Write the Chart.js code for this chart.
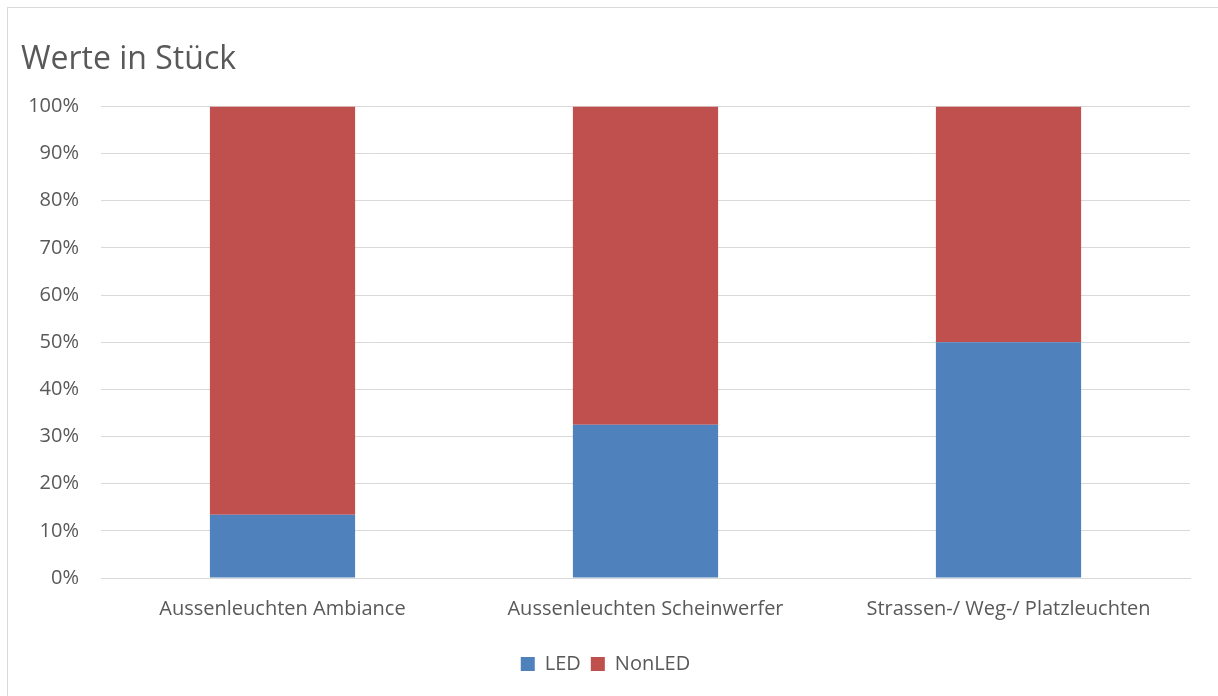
<!DOCTYPE html>
<html>
<head>
<meta charset="utf-8">
<script src="https://cdn.jsdelivr.net/npm/chart.js@4/dist/chart.umd.min.js"></script>
<style>
  html, body { margin: 0; padding: 0; background: #ffffff; }
  #wrap { width: 1218px; height: 696px; position: relative; }
</style>
</head>
<body>
<div id="wrap"><canvas id="c" width="1218" height="696"></canvas></div>
<script>
// Anteile je Leuchtenkategorie (in %)
const categories = ['Aussenleuchten Ambiance', 'Aussenleuchten Scheinwerfer', 'Strassen-/ Weg-/ Platzleuchten'];
const ledShare = [13.4, 32.5, 50.0];
const nonLedShare = [86.6, 67.5, 50.0];
const seriesNames = ['LED', 'NonLED'];
const yTicks = [0, 10, 20, 30, 40, 50, 60, 70, 80, 90, 100];

const textColor = '#595959';
const fontFamily = '"Open Sans", Lato, sans-serif';

// Heller Rahmen um die gesamte Grafik
const frame = {
  id: 'frame',
  beforeDraw(chart) {
    const ctx = chart.ctx;
    ctx.save();
    ctx.fillStyle = '#ffffff';
    ctx.fillRect(0, 0, chart.width, chart.height);
    ctx.strokeStyle = '#d9d9d9';
    ctx.lineWidth = 1;
    ctx.strokeRect(7.5, 7.5, chart.width + 20, chart.height + 20);
    ctx.restore();
  }
};

new Chart(document.getElementById('c'), {
  type: 'bar',
  data: {
    labels: categories,
    datasets: [
      { label: seriesNames[0], data: ledShare, backgroundColor: '#4f81bd' },
      { label: seriesNames[1], data: nonLedShare, backgroundColor: '#c0504d' }
    ]
  },
  options: {
    responsive: false,
    animation: false,
    devicePixelRatio: 1,
    layout: { padding: { left: 21, right: 28, top: 0, bottom: 12 } },
    datasets: { bar: { categoryPercentage: 1, barPercentage: 0.4 } },
    plugins: {
      title: {
        display: true,
        text: 'Werte in Stück',
        align: 'start',
        color: textColor,
        font: { family: fontFamily, size: 32, weight: 'normal' },
        padding: { top: 41, bottom: 27 }
      },
      legend: {
        position: 'bottom',
        labels: {
          color: textColor,
          font: { family: fontFamily, size: 20 },
          boxWidth: 14,
          boxHeight: 14,
          padding: 10
        }
      },
      tooltip: { enabled: false }
    },
    scales: {
      x: {
        stacked: true,
        afterFit(scale) { scale.height = 66; },
        grid: { display: false },
        border: { display: true, color: '#d9d9d9', width: 1 },
        ticks: { color: textColor, font: { family: fontFamily, size: 20 }, padding: 11, maxRotation: 0 }
      },
      y: {
        stacked: true,
        min: 0,
        max: 100,
        afterFit(scale) { scale.width = 80; },
        afterBuildTicks(scale) { scale.ticks = yTicks.map(v => ({ value: v })); },
        grid: { color: '#d9d9d9', drawTicks: false },
        border: { display: false },
        ticks: {
          color: textColor,
          font: { family: fontFamily, size: 20 },
          padding: 22,
          callback: v => v + '%'
        }
      }
    }
  },
  plugins: [frame]
});
</script>
</body>
</html>
